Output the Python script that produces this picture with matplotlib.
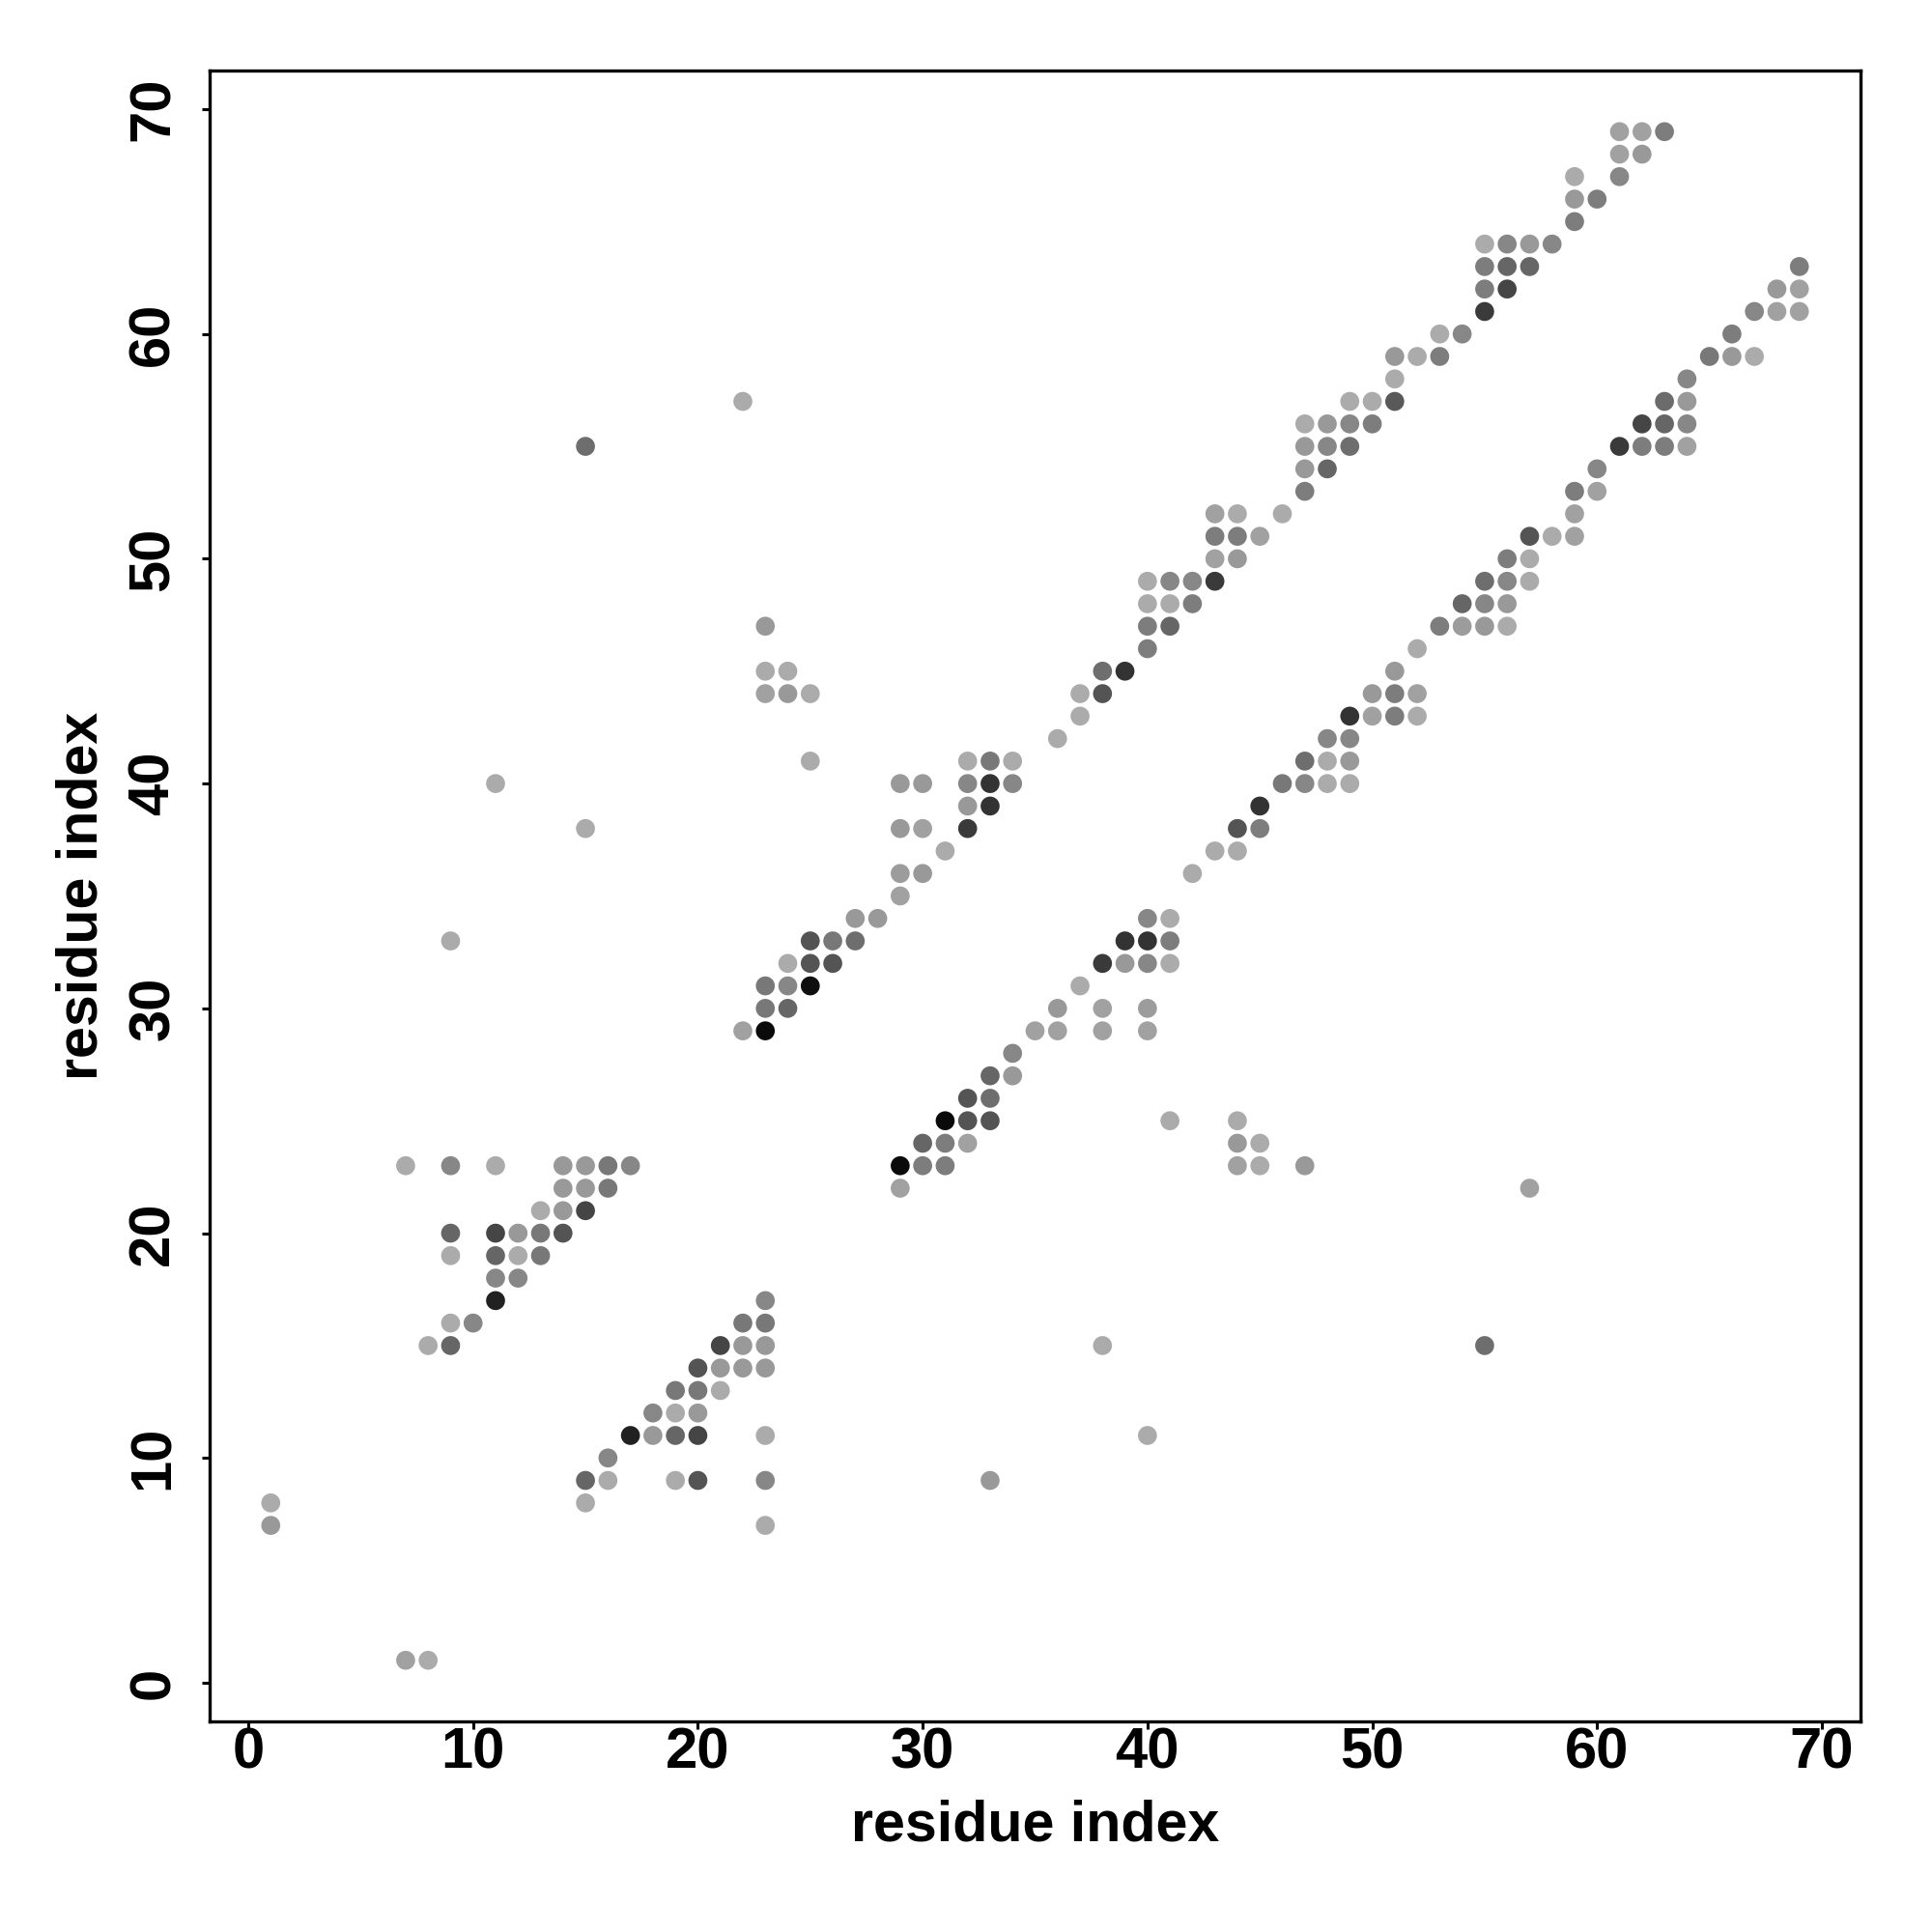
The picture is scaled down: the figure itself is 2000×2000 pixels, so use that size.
"""
Residue contact map: grey dots for contacting residue pairs,
darker grey = stronger contact.
"""

import matplotlib
matplotlib.use("Agg")
import matplotlib.pyplot as plt

plt.rcParams["font.family"] = ["Liberation Sans", "DejaVu Sans"]
plt.rcParams["font.weight"] = "bold"

# contact pairs, read row by row (one line per residue j)
res_j = [1, 1,
         7, 7,
         8, 8,
         9, 9, 9, 9, 9, 9,
         10,
         11, 11, 11, 11, 11, 11,
         12, 12, 12,
         13, 13, 13,
         14, 14, 14, 14,
         15, 15, 15, 15, 15, 15, 15,
         16, 16, 16, 16,
         17, 17,
         18, 18,
         19, 19, 19, 19,
         20, 20, 20, 20, 20,
         21, 21, 21,
         22, 22, 22, 22, 22,
         23, 23, 23, 23, 23, 23, 23, 23, 23, 23, 23, 23, 23,
         24, 24, 24, 24, 24,
         25, 25, 25, 25, 25,
         26, 26,
         27, 27,
         28,
         29, 29, 29, 29, 29, 29,
         30, 30, 30, 30, 30,
         31, 31, 31, 31,
         32, 32, 32, 32, 32, 32, 32,
         33, 33, 33, 33, 33, 33, 33,
         34, 34, 34, 34,
         35,
         36, 36, 36,
         37, 37, 37,
         38, 38, 38, 38, 38, 38,
         39, 39, 39,
         40, 40, 40, 40, 40, 40, 40, 40, 40, 40,
         41, 41, 41, 41, 41, 41, 41,
         42, 42, 42,
         43, 43, 43, 43, 43,
         44, 44, 44, 44, 44, 44, 44, 44,
         45, 45, 45, 45, 45,
         46, 46,
         47, 47, 47, 47, 47, 47, 47,
         48, 48, 48, 48, 48, 48,
         49, 49, 49, 49, 49, 49, 49,
         50, 50, 50, 50,
         51, 51, 51, 51, 51, 51,
         52, 52, 52, 52,
         53, 53, 53,
         54, 54, 54,
         55, 55, 55, 55, 55, 55, 55, 55,
         56, 56, 56, 56, 56, 56, 56,
         57, 57, 57, 57, 57, 57,
         58, 58,
         59, 59, 59, 59, 59, 59,
         60, 60, 60,
         61, 61, 61, 61,
         62, 62, 62, 62,
         63, 63, 63, 63,
         64, 64, 64, 64,
         65,
         66, 66,
         67, 67,
         68, 68,
         69, 69, 69]

res_i = [7, 8,
         1, 23,
         1, 15,
         15, 16, 19, 20, 23, 33,
         16,
         17, 18, 19, 20, 23, 40,
         18, 19, 20,
         19, 20, 21,
         20, 21, 22, 23,
         8, 9, 21, 22, 23, 38, 55,
         9, 10, 22, 23,
         11, 23,
         11, 12,
         9, 11, 12, 13,
         9, 11, 12, 13, 14,
         13, 14, 15,
         14, 15, 16, 29, 57,
         7, 9, 11, 14, 15, 16, 17, 29, 30, 31, 44, 45, 47,
         30, 31, 32, 44, 45,
         31, 32, 33, 41, 44,
         32, 33,
         33, 34,
         34,
         22, 23, 35, 36, 38, 40,
         23, 24, 36, 38, 40,
         23, 24, 25, 37,
         24, 25, 26, 38, 39, 40, 41,
         9, 25, 26, 27, 39, 40, 41,
         27, 28, 40, 41,
         29,
         29, 30, 42,
         31, 43, 44,
         15, 29, 30, 32, 44, 45,
         32, 33, 45,
         11, 29, 30, 32, 33, 34, 46, 47, 48, 49,
         25, 32, 33, 34, 47, 48, 49,
         36, 48, 49,
         37, 49, 50, 51, 52,
         23, 24, 25, 37, 38, 50, 51, 52,
         23, 24, 38, 39, 51,
         40, 52,
         23, 40, 41, 53, 54, 55, 56,
         40, 41, 42, 54, 55, 56,
         40, 41, 42, 43, 55, 56, 57,
         43, 44, 56, 57,
         43, 44, 45, 57, 58, 59,
         43, 44, 46, 59,
         47, 59, 60,
         47, 48, 60,
         15, 47, 48, 49, 61, 62, 63, 64,
         47, 48, 49, 50, 62, 63, 64,
         22, 49, 50, 51, 63, 64,
         51, 64,
         51, 52, 53, 65, 66, 67,
         53, 54, 66,
         55, 67, 68, 69,
         55, 56, 68, 69,
         55, 56, 57, 69,
         55, 56, 57, 58,
         59,
         59, 60,
         59, 61,
         61, 62,
         61, 62, 63]

# grey level of each dot (0 = black, 1 = white)
grey = [0.63, 0.67,
        0.60, 0.67,
        0.67, 0.67,
        0.40, 0.67, 0.67, 0.33, 0.53, 0.60,
        0.53,
        0.13, 0.60, 0.40, 0.27, 0.67, 0.67,
        0.53, 0.67, 0.60,
        0.47, 0.47, 0.67,
        0.33, 0.60, 0.60, 0.60,
        0.67, 0.40, 0.27, 0.60, 0.60, 0.67, 0.43,
        0.67, 0.53, 0.47, 0.47,
        0.13, 0.53,
        0.53, 0.53,
        0.67, 0.40, 0.67, 0.47,
        0.40, 0.27, 0.60, 0.47, 0.33,
        0.67, 0.60, 0.27,
        0.60, 0.60, 0.47, 0.63, 0.63,
        0.67, 0.53, 0.67, 0.60, 0.60, 0.47, 0.53, 0.04, 0.49, 0.49, 0.63, 0.67, 0.60,
        0.40, 0.49, 0.63, 0.60, 0.67,
        0.04, 0.33, 0.33, 0.67, 0.67,
        0.33, 0.43,
        0.40, 0.60,
        0.53,
        0.63, 0.04, 0.63, 0.63, 0.63, 0.63,
        0.47, 0.40, 0.60, 0.63, 0.61,
        0.47, 0.53, 0.06, 0.67,
        0.67, 0.33, 0.33, 0.23, 0.60, 0.53, 0.67,
        0.67, 0.33, 0.47, 0.43, 0.20, 0.20, 0.49,
        0.60, 0.60, 0.53, 0.67,
        0.63,
        0.61, 0.60, 0.67,
        0.67, 0.67, 0.67,
        0.67, 0.60, 0.63, 0.23, 0.33, 0.49,
        0.60, 0.20, 0.20,
        0.67, 0.60, 0.60, 0.53, 0.20, 0.53, 0.47, 0.53, 0.67, 0.67,
        0.67, 0.67, 0.47, 0.67, 0.43, 0.67, 0.60,
        0.67, 0.53, 0.53,
        0.67, 0.20, 0.63, 0.49, 0.67,
        0.63, 0.60, 0.67, 0.67, 0.33, 0.60, 0.49, 0.63,
        0.67, 0.67, 0.43, 0.20, 0.60,
        0.49, 0.67,
        0.60, 0.49, 0.40, 0.49, 0.61, 0.60, 0.67,
        0.67, 0.67, 0.49, 0.40, 0.53, 0.60,
        0.67, 0.53, 0.53, 0.23, 0.43, 0.53, 0.67,
        0.63, 0.60, 0.49, 0.67,
        0.49, 0.49, 0.63, 0.33, 0.67, 0.63,
        0.63, 0.67, 0.67, 0.63,
        0.49, 0.49, 0.63,
        0.60, 0.40, 0.53,
        0.43, 0.60, 0.53, 0.43, 0.23, 0.49, 0.49, 0.63,
        0.67, 0.60, 0.53, 0.49, 0.27, 0.40, 0.53,
        0.67, 0.67, 0.67, 0.35, 0.42, 0.60,
        0.67, 0.53,
        0.60, 0.67, 0.49, 0.47, 0.60, 0.67,
        0.67, 0.53, 0.49,
        0.23, 0.53, 0.63, 0.63,
        0.49, 0.27, 0.60, 0.63,
        0.49, 0.40, 0.40, 0.49,
        0.67, 0.53, 0.60, 0.53,
        0.49,
        0.60, 0.49,
        0.67, 0.53,
        0.63, 0.60,
        0.63, 0.63, 0.49]

ticks = [0, 10, 20, 30, 40, 50, 60, 70]

fig = plt.figure(figsize=(10, 10), dpi=200)
ax = fig.add_axes([0.1085, 0.109, 0.8545, 0.8545])

ax.scatter(res_i, res_j, c=grey, cmap="gray", vmin=0, vmax=1,
           s=50, linewidths=0)

ax.set_xlim(-1.72, 71.72)
ax.set_ylim(-1.72, 71.72)

ax.set_xticks(ticks, [str(t) for t in ticks])
ax.set_yticks(ticks, [str(t) for t in ticks], rotation=90, va="center")
ax.tick_params(axis="both", length=2.9, width=1.1, labelsize=21.5)
ax.tick_params(axis="x", pad=-1.0)
ax.tick_params(axis="y", pad=8.0)
for lbl in ax.get_xticklabels() + ax.get_yticklabels():
    lbl.set_fontweight("bold")

for sp in ax.spines.values():
    sp.set_linewidth(1.2)

ax.set_xlabel("residue index", fontsize=21.3, fontweight="bold", va="baseline")
ax.xaxis.set_label_coords(0.5, -0.0720)
ax.set_ylabel("residue index", fontsize=21.3, fontweight="bold", va="baseline")
ax.yaxis.set_label_coords(-0.0680, 0.5)

plt.savefig("out.png", dpi=200)
